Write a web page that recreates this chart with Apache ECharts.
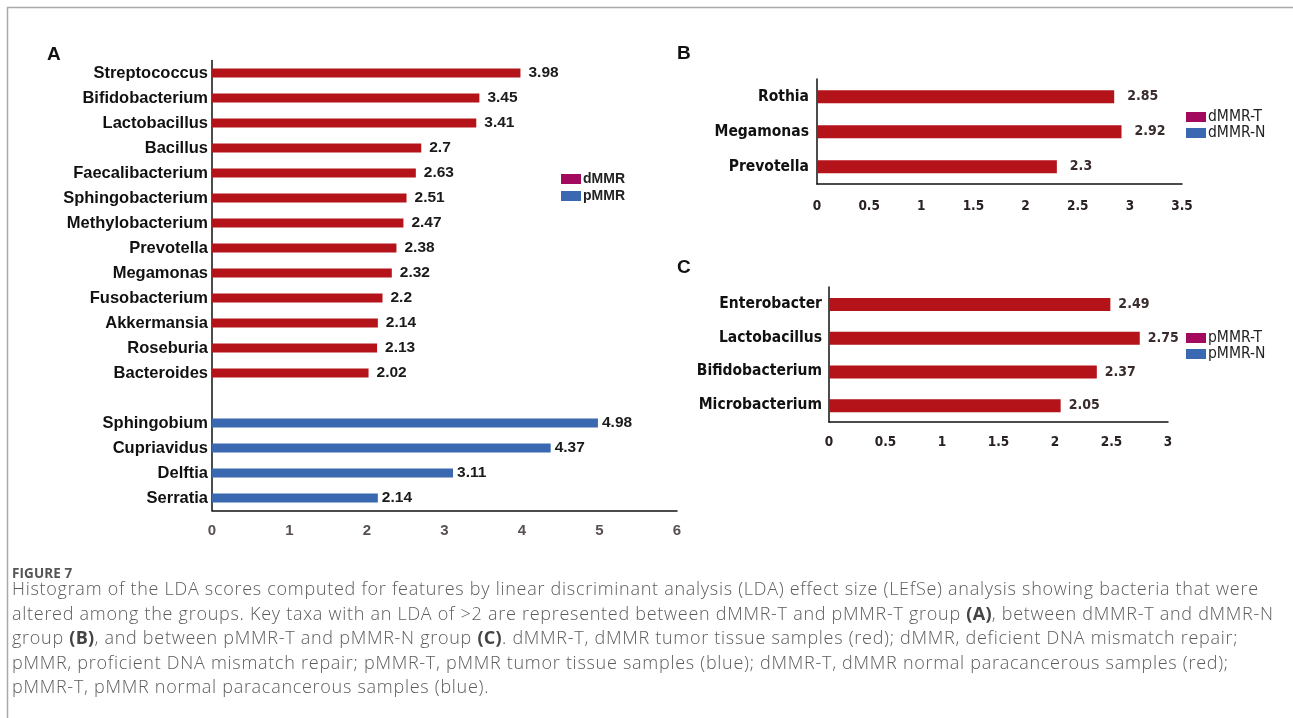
<!DOCTYPE html>
<html>
<head>
<meta charset="utf-8">
<style>
  html, body { margin: 0; padding: 0; background: #fff; }
  #wrap { position: relative; width: 1293px; height: 718px; }
  #chart { position: absolute; left: 0; top: 0; width: 1293px; height: 718px; }
  #caption { position: absolute; left: 12px; top: 564px; width: 1275px; font-family: "Open Sans", sans-serif; color: #5c5c5c; }
  #caption .fig { font-size: 13.5px; font-weight: 700; color: #555; letter-spacing: 0.1px; line-height: 18px; }
  #caption .body { font-size: 18px; font-weight: 300; letter-spacing: 0.72px; line-height: 24.5px; white-space: pre; margin-top: -6px; }
  #caption b { font-weight: 700; color: #444; letter-spacing: 0.3px; }
</style>
<script src="https://cdn.jsdelivr.net/npm/echarts@6/dist/echarts.min.js"></script>
</head>
<body>
<div id="wrap">
  <div id="chart"></div>
  <div id="caption">
    <div class="fig">FIGURE 7</div>
    <div class="body">Histogram of the LDA scores computed for features by linear discriminant analysis (LDA) effect size (LEfSe) analysis showing bacteria that were
altered among the groups. Key taxa with an LDA of &gt;2 are represented between dMMR-T and pMMR-T group <b>(A)</b>, between dMMR-T and dMMR-N
group <b>(B)</b>, and between pMMR-T and pMMR-N group <b>(C)</b>. dMMR-T, dMMR tumor tissue samples (red); dMMR, deficient DNA mismatch repair;
pMMR, proficient DNA mismatch repair; pMMR-T, pMMR tumor tissue samples (blue); dMMR-T, dMMR normal paracancerous samples (red);
pMMR-T, pMMR normal paracancerous samples (blue).</div>
  </div>
</div>
<script>
// Panel A: taxa enriched in dMMR-T vs pMMR-T (LDA scores)
const dmmrTaxa = ['Streptococcus', 'Bifidobacterium', 'Lactobacillus', 'Bacillus', 'Faecalibacterium',
  'Sphingobacterium', 'Methylobacterium', 'Prevotella', 'Megamonas', 'Fusobacterium',
  'Akkermansia', 'Roseburia', 'Bacteroides'];
const dmmrScores = [3.98, 3.45, 3.41, 2.7, 2.63, 2.51, 2.47, 2.38, 2.32, 2.2, 2.14, 2.13, 2.02];
const pmmrTaxa = ['Sphingobium', 'Cupriavidus', 'Delftia', 'Serratia'];
const pmmrScores = [4.98, 4.37, 3.11, 2.14];

// Panel B: dMMR-T vs dMMR-N
const bTaxa = ['Rothia', 'Megamonas', 'Prevotella'];
const bScores = [2.85, 2.92, 2.3];

// Panel C: pMMR-T vs pMMR-N
const cTaxa = ['Enterobacter', 'Lactobacillus', 'Bifidobacterium', 'Microbacterium'];
const cScores = [2.49, 2.75, 2.37, 2.05];

const RED = '#b31319';
const BLUE = '#3a69b2';
const LEG_RED = '#a3095c';
const LEG_BLUE = '#3a69b2';
const ARIAL = '"Liberation Sans", Arial, sans-serif';
const NARROW = '"DejaVu Sans Condensed", "DejaVu Sans", sans-serif';

// Panel A categories: dMMR taxa, a spacer row, then pMMR taxa
const aCats = dmmrTaxa.concat([''], pmmrTaxa);
const gap = aCats.length - dmmrTaxa.length;
const aRed = dmmrScores.concat(new Array(gap).fill('-'));
const aBlue = new Array(dmmrTaxa.length + 1).fill('-').concat(pmmrScores);

const chart = echarts.init(document.getElementById('chart'), null, { renderer: 'canvas' });

const axisLineBlack = { show: true, lineStyle: { color: '#111', width: 1.5 } };

function valueAxis(gridIndex, max, interval, font, size, color, margin) {
  return {
    type: 'value', gridIndex, min: 0, max, interval,
    axisLine: axisLineBlack, axisTick: { show: false }, splitLine: { show: false },
    axisLabel: { fontFamily: font, fontWeight: 'bold', fontSize: size, color, margin }
  };
}
function catAxis(gridIndex, data, font, size, weight, margin) {
  return {
    type: 'category', gridIndex, data, inverse: true,
    axisLine: axisLineBlack, axisTick: { show: false },
    axisLabel: { fontFamily: font, fontWeight: weight, fontSize: size, color: '#111', margin, interval: 0 }
  };
}
function barLabel(font, size, color, weight, dist) {
  return { show: true, position: 'right', distance: dist, fontFamily: font, fontSize: size, fontWeight: weight, color };
}

const option = {
  animation: false,
  backgroundColor: 'transparent',
  grid: [
    { left: 212, top: 60.5, width: 465, height: 450 },
    { left: 817, top: 79, width: 365, height: 105 },
    { left: 829, top: 287, width: 339, height: 135 }
  ],
  xAxis: [
    valueAxis(0, 6, 1, ARIAL, 15, '#595050', 13),
    valueAxis(1, 3.5, 0.5, NARROW, 13.5, '#2a2222', 15),
    valueAxis(2, 3, 0.5, NARROW, 13.5, '#2a2222', 13)
  ],
  yAxis: [
    catAxis(0, aCats, ARIAL, 16.5, 'bold', 4),
    catAxis(1, bTaxa, NARROW, 15.5, 'bold', 8),
    catAxis(2, cTaxa, NARROW, 15.5, 'bold', 7)
  ],
  legend: [
    {
      left: 556, top: 167, orient: 'vertical', itemWidth: 20, itemHeight: 10, itemGap: 3,
      selectedMode: false, icon: 'rect',
      textStyle: { fontFamily: ARIAL, fontWeight: 'bold', fontSize: 14, color: '#222', padding: [0, 0, 0, -3] },
      data: [{ name: 'dMMR', itemStyle: { color: LEG_RED } }, { name: 'pMMR', itemStyle: { color: LEG_BLUE } }]
    },
    {
      left: 1181, top: 104, orient: 'vertical', itemWidth: 20, itemHeight: 10, itemGap: 0,
      selectedMode: false, icon: 'rect',
      textStyle: { fontFamily: NARROW, fontSize: 15.5, color: '#222', padding: [0, 0, 0, -3] },
      data: [{ name: 'dMMR-T', itemStyle: { color: LEG_RED } }, { name: 'dMMR-N', itemStyle: { color: LEG_BLUE } }]
    },
    {
      left: 1181, top: 325, orient: 'vertical', itemWidth: 20, itemHeight: 10, itemGap: 0,
      selectedMode: false, icon: 'rect',
      textStyle: { fontFamily: NARROW, fontSize: 15.5, color: '#222', padding: [0, 0, 0, -3] },
      data: [{ name: 'pMMR-T', itemStyle: { color: LEG_RED } }, { name: 'pMMR-N', itemStyle: { color: LEG_BLUE } }]
    }
  ],
  series: [
    {
      name: 'dMMR', type: 'bar', xAxisIndex: 0, yAxisIndex: 0, data: aRed, barWidth: 9, barGap: '-100%',
      itemStyle: { color: RED }, label: barLabel(ARIAL, 15.5, '#1a1a1a', 'bold', 8)
    },
    {
      name: 'pMMR', type: 'bar', xAxisIndex: 0, yAxisIndex: 0, data: aBlue, barWidth: 9, barGap: '-100%',
      itemStyle: { color: BLUE }, label: barLabel(ARIAL, 15.5, '#1a1a1a', 'bold', 4)
    },
    {
      name: 'dMMR-T', type: 'bar', xAxisIndex: 1, yAxisIndex: 1, data: bScores, barWidth: 13, barGap: '-100%',
      itemStyle: { color: RED }, label: barLabel(NARROW, 14, '#3a2c2c', 'bold', 13)
    },
    { name: 'dMMR-N', type: 'bar', xAxisIndex: 1, yAxisIndex: 1, data: [], barGap: '-100%', itemStyle: { color: BLUE } },
    {
      name: 'pMMR-T', type: 'bar', xAxisIndex: 2, yAxisIndex: 2, data: cScores, barWidth: 13, barGap: '-100%',
      itemStyle: { color: RED }, label: barLabel(NARROW, 14, '#3a2c2c', 'bold', 8)
    },
    { name: 'pMMR-N', type: 'bar', xAxisIndex: 2, yAxisIndex: 2, data: [], barGap: '-100%', itemStyle: { color: BLUE } }
  ],
  graphic: [
    // figure frame (top and left edges)
    { type: 'polyline', shape: { points: [[7.5, 718], [7.5, 7.5], [1293, 7.5]] }, style: { stroke: '#aaaaaa', lineWidth: 1.5, fill: null } },
    // panel letters
    { type: 'text', left: 47, top: 45, style: { text: 'A', font: 'bold 19px "Liberation Sans", Arial, sans-serif', fill: '#111' } },
    { type: 'text', left: 677, top: 44, style: { text: 'B', font: 'bold 19px "Liberation Sans", Arial, sans-serif', fill: '#111' } },
    { type: 'text', left: 677, top: 258, style: { text: 'C', font: 'bold 19px "Liberation Sans", Arial, sans-serif', fill: '#111' } }
  ]
};

chart.setOption(option);
</script>
</body>
</html>
